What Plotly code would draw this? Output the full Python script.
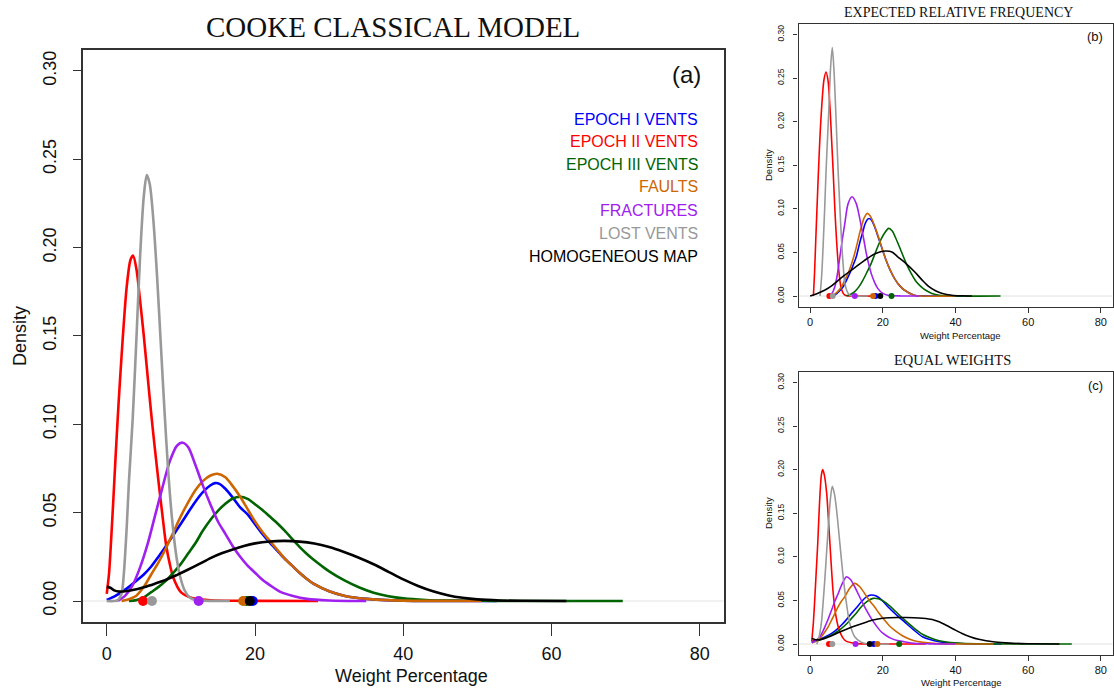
import plotly.graph_objects as go

# ---------------- DATA ----------------
SERIES = ["EPOCH I VENTS", "EPOCH II VENTS", "EPOCH III VENTS", "FAULTS",
          "FRACTURES", "LOST VENTS", "HOMOGENEOUS MAP"]
SERIES_COLORS = ["#0000FF", "#FF0000", "#006400", "#CD6600",
                 "#A020F0", "#999999", "#000000"]

X_TICKS = [0, 20, 40, 60, 80]
Y_TICKS = [0.00, 0.05, 0.10, 0.15, 0.20, 0.25, 0.30]
Y_TICK_TEXT = ["0.00", "0.05", "0.10", "0.15", "0.20", "0.25", "0.30"]

# ---- panel (a) COOKE CLASSICAL MODEL ----
A_BLUE_X = [0, 1, 2, 3, 4, 5, 6, 7, 8, 9, 10, 11, 12, 13, 14, 14.6, 15.2, 16, 17, 18, 19, 20, 21,
            22, 23, 24, 25, 26, 27, 28, 30, 32, 35, 40, 45, 52.6]
A_BLUE_Y = [0.0006, 0.0025, 0.005, 0.008, 0.0115, 0.015, 0.0195, 0.0252, 0.0312, 0.0374, 0.0437,
            0.0502, 0.0565, 0.0618, 0.0655, 0.0667, 0.0663, 0.0635, 0.0585, 0.053, 0.049, 0.0435,
            0.038, 0.033, 0.0285, 0.024, 0.020, 0.016, 0.0125, 0.0095, 0.0055, 0.003, 0.0012,
            0.0002, 0.00005, 0]
A_RED_X = [0, 0.3, 0.6, 0.9, 1.2, 1.6, 2.1, 2.7, 3.2, 3.55, 4.0, 4.5, 5.0, 5.5, 6.0, 6.5, 7.0, 7.5,
           8.0, 8.5, 9.0, 10, 11, 12, 14, 17, 20, 28.5]
A_RED_Y = [0.004, 0.015, 0.035, 0.058, 0.082, 0.112, 0.145, 0.178, 0.193, 0.1955, 0.188, 0.170,
           0.150, 0.128, 0.106, 0.086, 0.067, 0.049, 0.032, 0.021, 0.013, 0.005, 0.0025, 0.0012,
           0.0004, 0.0001, 0.00005, 0]
A_GREEN_X = [3, 4, 5, 6, 7, 8, 9, 10, 11, 12, 13, 14, 15, 16, 17, 18, 19, 20, 21, 22, 23, 24, 25,
             26, 27, 28, 29, 30, 32, 34, 36, 38, 40, 43, 46, 50, 55, 60, 69.6]
A_GREEN_Y = [0, 0.0005, 0.002, 0.005, 0.008, 0.0115, 0.016, 0.021, 0.027, 0.033, 0.040, 0.046,
             0.051, 0.055, 0.058, 0.059, 0.0578, 0.0548, 0.0515, 0.0478, 0.0440, 0.0398, 0.0352,
             0.0306, 0.0266, 0.0230, 0.0198, 0.0168, 0.0118, 0.0078, 0.0047, 0.0027, 0.0015,
             0.0006, 0.0002, 0.0001, 0, 0, 0]
A_ORANGE_X = [2, 3, 4, 5, 6, 7, 8, 9, 10, 11, 12, 13, 14, 14.9, 16, 17, 18, 19, 20, 21, 22, 23, 24,
              25, 26, 27, 28, 30, 32, 35, 40, 45, 50.5]
A_ORANGE_Y = [0, 0.001, 0.003, 0.008, 0.015, 0.022, 0.030, 0.039, 0.048, 0.056, 0.063, 0.068,
              0.071, 0.072, 0.070, 0.065, 0.059, 0.052, 0.045, 0.039, 0.034, 0.029, 0.024, 0.020,
              0.016, 0.0125, 0.0095, 0.0055, 0.003, 0.0012, 0.0002, 0.00005, 0]
A_PURPLE_X = [1.5, 2.5, 3.5, 4.5, 5.5, 6.5, 7.5, 8.5, 9.5, 10.25, 11, 12, 13, 14, 15, 16, 17, 18,
              19, 20, 21, 22, 23.5, 25, 27, 30, 35]
A_PURPLE_Y = [0, 0.003, 0.009, 0.019, 0.032, 0.048, 0.064, 0.079, 0.088, 0.0896, 0.087, 0.0765,
              0.065, 0.0545, 0.045, 0.038, 0.031, 0.025, 0.020, 0.016, 0.012, 0.009, 0.005, 0.003,
              0.0012, 0.0003, 0]
A_GRAY_X = [0, 1.0, 1.5, 2.0, 2.3, 2.7, 3.0, 3.5, 4.0, 4.5, 5.0, 5.4, 5.8, 6.3, 6.8, 7.3, 7.8, 8.3,
            8.8, 9.3, 9.8, 10.5, 11.2, 12, 13, 16.6]
A_GRAY_Y = [0, 0, 0.0005, 0.004, 0.015, 0.042, 0.068, 0.103, 0.148, 0.195, 0.229, 0.241, 0.236,
            0.215, 0.183, 0.145, 0.107, 0.073, 0.047, 0.028, 0.0156, 0.0061, 0.002, 0.0005,
            0.0002, 0]
A_BLACK_X = [0, 0.5, 1, 1.7, 2.5, 3.5, 5, 6.5, 8, 9.5, 11, 12.5, 14, 15.5, 17, 18.5, 20, 22, 24, 26,
             28, 30, 32, 34, 36, 38, 40, 42, 44, 46, 48, 50, 53, 56, 62]
A_BLACK_Y = [0.008, 0.0075, 0.006, 0.0053, 0.0055, 0.0062, 0.0078, 0.0098, 0.012, 0.0148, 0.0178,
             0.021, 0.0243, 0.027, 0.0292, 0.0311, 0.0326, 0.0337, 0.034, 0.0336, 0.0325, 0.0305,
             0.0277, 0.0245, 0.0208, 0.0165, 0.0122, 0.0085, 0.0055, 0.0033, 0.0018, 0.0009,
             0.0003, 0.0001, 0]
# medians marked on the baseline (order = SERIES)
A_DOTS = [19.7, 4.9, 18.85, 18.4, 12.4, 6.1, 19.3]

# ---- panel (b) EXPECTED RELATIVE FREQUENCY ----
B_BLUE_X = [6.4, 7.6, 9.1, 10.0, 10.9, 11.8, 12.7, 13.4, 14.1, 14.6, 15.0, 15.6, 16.2, 16.9, 17.6,
            18.3, 19.1, 20.0, 20.9, 22.0, 23.2, 24.5, 25.9, 28.6, 31, 34, 42]
B_BLUE_Y = [0, 0.004, 0.0107, 0.018, 0.026, 0.035, 0.045, 0.057, 0.068, 0.075, 0.0814, 0.087,
            0.089, 0.087, 0.081, 0.073, 0.063, 0.052, 0.041, 0.030, 0.0203, 0.0125, 0.0069, 0.001,
            0.0002, 0, 0]
B_RED_X = [0.9, 1.2, 1.55, 1.9, 2.27, 2.7, 3.18, 3.8, 4.36, 4.9, 5.45, 5.9, 6.36, 6.8, 7.27, 7.8,
           8.45, 9.0, 9.55, 10.5, 12, 20]
B_RED_Y = [0, 0.025, 0.064, 0.102, 0.141, 0.182, 0.217, 0.248, 0.257, 0.248, 0.217, 0.18, 0.141,
           0.1, 0.064, 0.033, 0.0107, 0.004, 0.001, 0.0002, 0, 0]
B_GREEN_X = [10.0, 11.2, 12.27, 13.4, 14.5, 15.6, 16.8, 17.7, 18.6, 19.5, 20.45, 21.6, 22.6, 23.6,
             25.0, 26.4, 27.8, 29.1, 30.5, 31.8, 33.5, 35.5, 40, 52.4]
B_GREEN_Y = [0, 0.002, 0.005, 0.0105, 0.018, 0.027, 0.0375, 0.047, 0.0565, 0.065, 0.072, 0.0776,
             0.0745, 0.066, 0.052, 0.0378, 0.026, 0.017, 0.0108, 0.0066, 0.003, 0.001, 0.0001, 0]
B_ORANGE_X = [5.9, 7.3, 8.64, 9.5, 10.45, 11.4, 12.27, 13.0, 13.6, 14.2, 14.8, 15.7, 16.5, 17.3,
              18.2, 19.1, 20.0, 20.9, 22.0, 23.2, 24.5, 25.9, 28.6, 31, 40]
B_ORANGE_Y = [0, 0.004, 0.0107, 0.018, 0.026, 0.037, 0.049, 0.061, 0.0719, 0.081, 0.089, 0.0948,
              0.092, 0.0852, 0.075, 0.064, 0.052, 0.041, 0.030, 0.0203, 0.0125, 0.0069, 0.001, 0, 0]
B_PURPLE_X = [5.0, 6.0, 6.8, 7.5, 8.18, 8.9, 9.55, 10.45, 11.55, 12.7, 13.4, 14.1, 14.8, 15.45,
              16.1, 16.8, 17.7, 18.6, 20, 21.4, 25, 30]
B_PURPLE_Y = [0, 0.003, 0.0107, 0.025, 0.045, 0.066, 0.0834, 0.106, 0.1139, 0.106, 0.094, 0.0795,
              0.064, 0.049, 0.037, 0.026, 0.016, 0.0088, 0.003, 0.001, 0.0001, 0]
B_GRAY_X = [2.73, 3.2, 3.64, 4.0, 4.36, 4.8, 5.18, 5.6, 6.09, 6.55, 7.0, 7.4, 7.73, 8.2, 8.64, 9.1,
            9.55, 10.2, 10.9, 12, 16]
B_GRAY_Y = [0, 0.025, 0.064, 0.1, 0.141, 0.182, 0.217, 0.26, 0.285, 0.26, 0.217, 0.175, 0.141,
            0.1, 0.064, 0.035, 0.0145, 0.005, 0.001, 0, 0]
B_BLACK_X = [0, 2, 4.1, 6, 7.73, 9.5, 11.4, 13.2, 15.0, 16.6, 18.2, 19.6, 20.9, 22.5, 24.1, 26.3,
             28.6, 30.9, 32.7, 34.5, 36.4, 39, 41.8, 44.5]
B_BLACK_Y = [0, 0.003, 0.0069, 0.012, 0.018, 0.024, 0.0298, 0.0355, 0.041, 0.0455, 0.049, 0.051,
             0.0516, 0.0505, 0.045, 0.0375, 0.0285, 0.018, 0.0107, 0.006, 0.003, 0.001, 0.0003, 0]
B_DOTS = [18.0, 5.3, 22.4, 17.3, 12.3, 6.2, 19.3]

# ---- panel (c) EQUAL WEIGHTS ----
C_BLUE_X = [0.45, 1.8, 3.18, 4.5, 5.9, 7.3, 8.64, 10, 11.4, 12.8, 14.1, 15.5, 16.8, 18.2, 19.8,
            21.4, 23.6, 25.9, 28.4, 30.9, 33.2, 35.5, 38, 42, 46, 52.7]
C_BLUE_Y = [0.003, 0.0045, 0.0065, 0.009, 0.0122, 0.0165, 0.0218, 0.028, 0.0352, 0.042, 0.0485,
            0.054, 0.0562, 0.055, 0.050, 0.0428, 0.034, 0.0256, 0.0165, 0.0084, 0.0048, 0.0027,
            0.0013, 0.0004, 0.0001, 0]
C_RED_X = [0.45, 0.9, 1.36, 1.7, 2.09, 2.4, 2.73, 3.1, 3.45, 3.9, 4.55, 5.0, 5.45, 5.9, 6.36, 7.0,
           7.73, 8.4, 9.1, 10, 11.4, 13, 16, 20, 31.8]
C_RED_Y = [0.003, 0.025, 0.058, 0.085, 0.115, 0.145, 0.173, 0.194, 0.200, 0.194, 0.173, 0.145,
           0.115, 0.085, 0.058, 0.035, 0.0199, 0.012, 0.0065, 0.003, 0.0015, 0.0005, 0.0001, 0, 0]
C_GREEN_X = [0.45, 1.8, 3.18, 4.5, 5.9, 7.3, 8.64, 10, 11.4, 12.8, 14.1, 15.7, 17.3, 18.8, 20.3,
             21.8, 23.6, 25.9, 28.4, 30.9, 33.2, 35.5, 38, 42, 46, 52, 60, 72]
C_GREEN_Y = [0.002, 0.0035, 0.0055, 0.0078, 0.0103, 0.0138, 0.018, 0.023, 0.0294, 0.036, 0.0428,
             0.049, 0.0524, 0.052, 0.049, 0.044, 0.037, 0.028, 0.019, 0.0112, 0.0068, 0.0038,
             0.002, 0.0008, 0.0003, 0.0001, 0, 0]
C_ORANGE_X = [0.45, 1.4, 2.27, 3.2, 4.09, 5.0, 5.9, 6.8, 7.73, 8.6, 9.55, 10.9, 12.27, 13.6, 15.0,
              16.3, 17.7, 19.0, 20.45, 21.8, 23.2, 24.5, 25.9, 28.6, 31, 34, 38, 44, 50.5]
C_ORANGE_Y = [0.0015, 0.003, 0.0046, 0.009, 0.0141, 0.020, 0.0275, 0.035, 0.0428, 0.049, 0.0543,
              0.064, 0.0696, 0.066, 0.058, 0.050, 0.0428, 0.035, 0.0275, 0.021, 0.016, 0.012,
              0.0084, 0.0038, 0.002, 0.0008, 0.0002, 0.00005, 0]
C_PURPLE_X = [0.45, 1.5, 2.27, 3.2, 4.09, 5.0, 5.9, 6.8, 7.73, 8.8, 10.0, 11.1, 12.27, 13.4, 14.5,
              15.6, 16.8, 18.2, 19.55, 21, 22.3, 24, 25.9, 28.6, 33, 40]
C_PURPLE_Y = [0.0015, 0.004, 0.0065, 0.012, 0.0199, 0.029, 0.039, 0.049, 0.058, 0.069, 0.0772,
              0.074, 0.0657, 0.056, 0.0467, 0.038, 0.0294, 0.021, 0.0141, 0.0095, 0.0065, 0.004,
              0.0027, 0.0008, 0.0002, 0]
C_GRAY_X = [1.8, 2.27, 2.7, 3.18, 3.6, 4.09, 4.5, 5.0, 5.5, 6.09, 6.7, 7.27, 8.18, 9.09, 10.0,
            10.9, 12.27, 14.1, 16, 21.8]
C_GRAY_Y = [0, 0.0046, 0.013, 0.0275, 0.049, 0.077, 0.103, 0.1345, 0.163, 0.181, 0.172, 0.154,
            0.1155, 0.077, 0.0467, 0.0237, 0.0084, 0.002, 0, 0]
C_BLACK_X = [0.45, 1.5, 2.5, 4, 5.9, 8, 10, 12.5, 15, 17.3, 19.5, 21.8, 24, 26.4, 28.5, 30.9, 33.6,
             35.5, 37.3, 39.5, 41.8, 44, 46.4, 50.9, 55, 60, 68.6]
C_BLACK_Y = [0.0065, 0.005, 0.0048, 0.0065, 0.0095, 0.0135, 0.017, 0.021, 0.0245, 0.0275,
             0.0292, 0.0301, 0.0304, 0.0304, 0.0302, 0.0296, 0.0282, 0.0255, 0.0218, 0.017,
             0.0122, 0.0085, 0.0054, 0.0023, 0.001, 0.0004, 0]
C_DOTS = [17.5, 5.2, 24.5, 18.5, 12.5, 6.1, 16.4]

PANEL_TITLES = ["COOKE CLASSICAL MODEL", "EXPECTED RELATIVE FREQUENCY", "EQUAL WEIGHTS"]
PANEL_TAGS = ["(a)", "(b)", "(c)"]
X_LABEL = "Weight Percentage"
Y_LABEL = "Density"

PANELS = [
    [(A_BLUE_X, A_BLUE_Y), (A_RED_X, A_RED_Y), (A_GREEN_X, A_GREEN_Y), (A_ORANGE_X, A_ORANGE_Y),
     (A_PURPLE_X, A_PURPLE_Y), (A_GRAY_X, A_GRAY_Y), (A_BLACK_X, A_BLACK_Y)],
    [(B_BLUE_X, B_BLUE_Y), (B_RED_X, B_RED_Y), (B_GREEN_X, B_GREEN_Y), (B_ORANGE_X, B_ORANGE_Y),
     (B_PURPLE_X, B_PURPLE_Y), (B_GRAY_X, B_GRAY_Y), (B_BLACK_X, B_BLACK_Y)],
    [(C_BLUE_X, C_BLUE_Y), (C_RED_X, C_RED_Y), (C_GREEN_X, C_GREEN_Y), (C_ORANGE_X, C_ORANGE_Y),
     (C_PURPLE_X, C_PURPLE_Y), (C_GRAY_X, C_GRAY_Y), (C_BLACK_X, C_BLACK_Y)],
]
DOTS = [A_DOTS, B_DOTS, C_DOTS]

# ---------------- LAYOUT ----------------
W, H = 1114, 688
SANS = "Liberation Sans, Arial, Helvetica, sans-serif"
SERIF = "Liberation Serif, Times New Roman, serif"
FRAME = "#333333"


def fx(px):
    return px / W


def fy(py):
    return 1 - py / H


# frames in pixels: (left, right, top, bottom)
FRAMES = [(83, 723.6, 49.7, 622.2), (798.5, 1112.5, 24, 306.5), (798.5, 1112.5, 372, 654.5)]
LINE_W = [2.6, 1.6, 1.6]
DOT_SIZE = [10, 6, 6]

fig = go.Figure()

for p in range(3):
    sfx = "" if p == 0 else str(p + 1)
    for (xs, ys), col in zip(PANELS[p], SERIES_COLORS):
        fig.add_trace(go.Scatter(x=xs, y=ys, mode="lines",
                                 line=dict(color=col, width=LINE_W[p], shape="spline", smoothing=0.8),
                                 xaxis="x" + sfx, yaxis="y" + sfx, hoverinfo="skip"))
    for xv, col in zip(DOTS[p], SERIES_COLORS):
        fig.add_trace(go.Scatter(x=[xv], y=[0], mode="markers",
                                 marker=dict(color=col, size=DOT_SIZE[p], line=dict(width=0)),
                                 xaxis="x" + sfx, yaxis="y" + sfx, hoverinfo="skip"))

layout = dict(width=W, height=H, margin=dict(l=0, r=0, t=0, b=0),
              paper_bgcolor="white", plot_bgcolor="white", showlegend=False)

shapes = []
annotations = []
for p in range(3):
    sfx = "" if p == 0 else str(p + 1)
    l, r, t, b = FRAMES[p]
    big = p == 0
    layout["xaxis" + sfx] = dict(
        domain=[fx(l), fx(r)], range=[-3.2, 83.2], anchor="y" + sfx,
        tickvals=X_TICKS, ticks="outside", ticklen=12 if big else 5, tickwidth=1.3 if big else 1,
        tickcolor=FRAME, showline=True, linecolor=FRAME, linewidth=1.5 if big else 1.1,
        mirror=True, showgrid=False, zeroline=False,
        tickfont=dict(family=SANS, size=18 if big else 11, color="#111"),
        ticklabelstandoff=2 if big else 0)
    layout["yaxis" + sfx] = dict(
        domain=[fy(b), fy(t)], range=[-0.012, 0.312], anchor="x" + sfx,
        tickvals=Y_TICKS, ticktext=Y_TICK_TEXT, tickangle=-90,
        ticks="outside", ticklen=8 if big else 4, tickwidth=1.3 if big else 1,
        tickcolor=FRAME, showline=True, linecolor=FRAME, linewidth=1.5 if big else 1.1,
        mirror=True, showgrid=False, zeroline=False,
        tickfont=dict(family=SANS, size=18 if big else 8.5, color="#111"),
        ticklabelstandoff=10 if big else 6)
    shapes.append(dict(type="line", xref="x" + sfx + " domain", x0=0, x1=1,
                       yref="y" + sfx, y0=0, y1=0, line=dict(color="#e2e2e2", width=1),
                       layer="below"))

layout["shapes"] = shapes

# titles
annotations.append(dict(text=PANEL_TITLES[0], x=fx(393), y=fy(27), xref="paper", yref="paper",
                        showarrow=False, xanchor="center", yanchor="middle",
                        font=dict(family=SERIF, size=29, color="#111")))
annotations.append(dict(text=PANEL_TITLES[1], x=fx(958), y=fy(12.5), xref="paper", yref="paper",
                        showarrow=False, xanchor="center", yanchor="middle",
                        font=dict(family=SERIF, size=14, color="#111")))
annotations.append(dict(text=PANEL_TITLES[2], x=fx(952), y=fy(360), xref="paper", yref="paper",
                        showarrow=False, xanchor="center", yanchor="middle",
                        font=dict(family=SERIF, size=14.5, color="#111")))
# tags
annotations.append(dict(text=PANEL_TAGS[0], x=fx(703), y=fy(75), xref="paper", yref="paper",
                        showarrow=False, xanchor="right", yanchor="middle",
                        font=dict(family=SANS, size=24, color="#111")))
annotations.append(dict(text=PANEL_TAGS[1], x=fx(1105), y=fy(37), xref="paper", yref="paper",
                        showarrow=False, xanchor="right", yanchor="middle",
                        font=dict(family=SANS, size=13, color="#111")))
annotations.append(dict(text=PANEL_TAGS[2], x=fx(1105), y=fy(385), xref="paper", yref="paper",
                        showarrow=False, xanchor="right", yanchor="middle",
                        font=dict(family=SANS, size=13, color="#111")))
# legend in panel (a)
LEGEND_Y = [119.5, 141.5, 164, 187, 210, 233, 256.5]
for name, col, ly in zip(SERIES, SERIES_COLORS, LEGEND_Y):
    annotations.append(dict(text=name, x=fx(700), y=fy(ly), xref="paper", yref="paper",
                            showarrow=False, xanchor="right", yanchor="middle",
                            font=dict(family=SANS, size=16, color=col)))
# axis titles
annotations.append(dict(text=X_LABEL, x=fx(411), y=fy(676), xref="paper", yref="paper",
                        showarrow=False, xanchor="center", yanchor="middle",
                        font=dict(family=SANS, size=18, color="#111")))
annotations.append(dict(text=Y_LABEL, x=fx(20), y=fy(336), xref="paper", yref="paper",
                        showarrow=False, xanchor="center", yanchor="middle", textangle=-90,
                        font=dict(family=SANS, size=18, color="#111")))
for ty, lx, ly in [(165, 960, 335), (513, 961, 682.5)]:
    annotations.append(dict(text=Y_LABEL, x=fx(768), y=fy(ty), xref="paper", yref="paper",
                            showarrow=False, xanchor="center", yanchor="middle", textangle=-90,
                            font=dict(family=SANS, size=9.5, color="#111")))
    annotations.append(dict(text=X_LABEL, x=fx(lx), y=fy(ly), xref="paper", yref="paper",
                            showarrow=False, xanchor="center", yanchor="middle",
                            font=dict(family=SANS, size=9.5, color="#111")))

layout["annotations"] = annotations
fig.update_layout(**layout)
fig.write_html("out.html")
